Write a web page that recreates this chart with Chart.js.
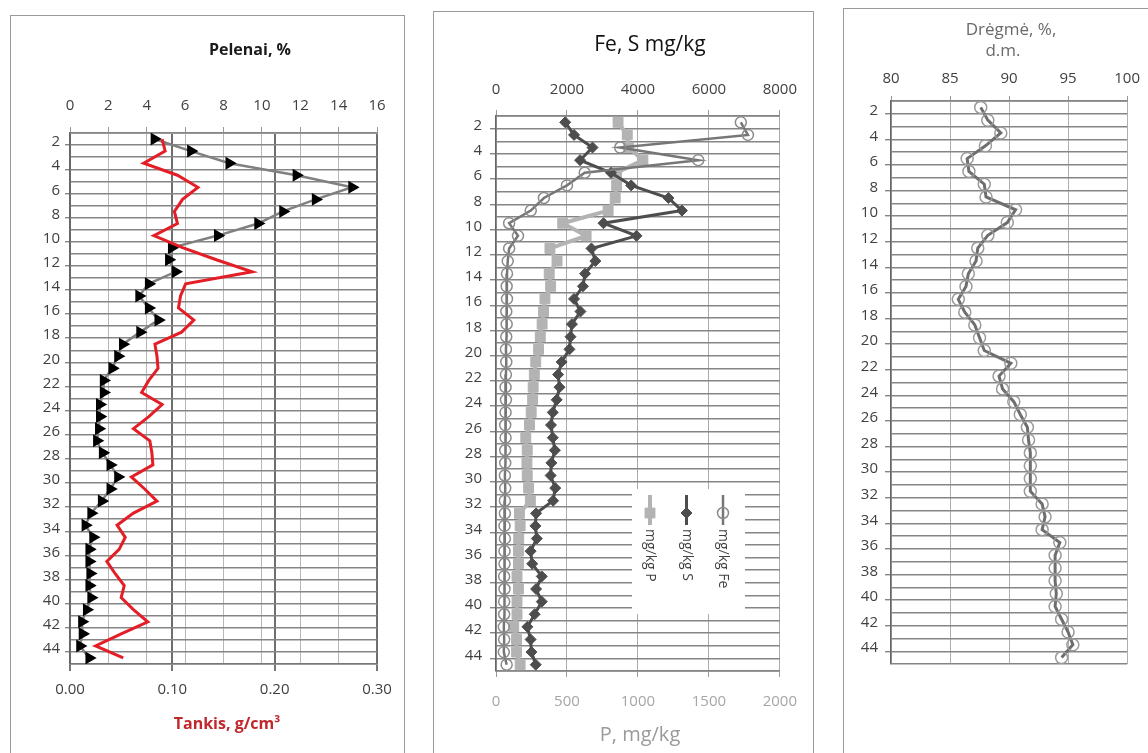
<!DOCTYPE html>
<html>
<head>
<meta charset="utf-8">
<script src="https://cdn.jsdelivr.net/npm/chart.js@4.4.1/dist/chart.umd.min.js"></script>
<style>
  body { margin: 0; background: #fff; width: 1148px; height: 753px; overflow: hidden; position: relative; }
  .box { position: absolute; border: 1px solid #9a9a9a; background: #fff; }
  canvas { position: absolute; }
</style>
</head>
<body>
<div class="box" style="left:10px;top:15px;width:393px;height:760px"></div>
<div class="box" style="left:433px;top:11px;width:379px;height:760px"></div>
<div class="box" style="left:843px;top:8px;width:320px;height:760px"></div>
<canvas id="c1" width="394" height="738" style="left:10px;top:15px"></canvas>
<canvas id="c2" width="380" height="742" style="left:433px;top:11px"></canvas>
<canvas id="c3" width="305" height="745" style="left:843px;top:8px"></canvas>

<script>
// gylis (cm) - kiekvieno sluoksnio vidurys
const depths = [1.5, 2.5, 3.5, 4.5, 5.5, 6.5, 7.5, 8.5, 9.5, 10.5, 11.5, 12.5, 13.5, 14.5, 15.5,
  16.5, 17.5, 18.5, 19.5, 20.5, 21.5, 22.5, 23.5, 24.5, 25.5, 26.5, 27.5, 28.5, 29.5, 30.5,
  31.5, 32.5, 33.5, 34.5, 35.5, 36.5, 37.5, 38.5, 39.5, 40.5, 41.5, 42.5, 43.5, 44.5];
const depthLabels = [2, 4, 6, 8, 10, 12, 14, 16, 18, 20, 22, 24, 26, 28, 30, 32, 34, 36, 38, 40, 42, 44];

// pelenai, %
const pelenai = [4.4, 6.3, 8.3, 11.8, 14.7, 12.8, 11.1, 9.8, 7.7, 5.3, 5.15, 5.5, 4.1, 3.6, 4.1,
  4.6, 3.65, 2.75, 2.5, 2.2, 1.75, 1.75, 1.55, 1.55, 1.5, 1.4, 1.7, 2.1, 2.5, 2.1,
  1.65, 1.1, 0.8, 1.2, 1.0, 1.0, 1.05, 1.0, 1.1, 0.87, 0.62, 0.65, 0.52, 1.0];
// tankis, g/cm3
const tankis = [0.090, 0.093, 0.072, 0.105, 0.125, 0.110, 0.102, 0.105, 0.082, 0.110, 0.143, 0.178, 0.113, 0.108, 0.106,
  0.121, 0.109, 0.083, 0.085, 0.086, 0.077, 0.070, 0.090, 0.077, 0.062, 0.078, 0.080, 0.081, 0.060, 0.073,
  0.085, 0.062, 0.046, 0.054, 0.048, 0.036, 0.044, 0.053, 0.050, 0.062, 0.076, 0.050, 0.025, 0.052];

// Fe, S, P mg/kg
const fe = [6900, 7100, 3500, 5700, 2500, 2000, 1350, 980, 370, 620, 370, 330, 310, 300, 310,
  290, 300, 290, 280, 290, 280, 270, 280, 270, 260, 270, 260, 260, 250, 260,
  250, 250, 240, 250, 240, 240, 230, 240, 230, 230, 220, 230, 220, 300];
const siera = [1950, 2200, 2720, 2370, 3240, 3810, 4860, 5240, 3030, 3960, 2690, 2800, 2510, 2450, 2200,
  2380, 2140, 2100, 2070, 1850, 1750, 1790, 1710, 1600, 1550, 1600, 1660, 1560, 1540, 1670,
  1610, 1130, 1110, 1150, 975, 1020, 1290, 1130, 1290, 1090, 885, 975, 1000, 1120];
const fosforas = [860, 925, 935, 1035, 850, 850, 840, 790, 470, 635, 380, 430, 375, 385, 345,
  335, 325, 312, 300, 280, 270, 262, 258, 248, 236, 210, 220, 218, 220, 230,
  242, 165, 170, 160, 158, 158, 148, 158, 148, 148, 125, 145, 145, 170];

// dregme, %
const dregme = [87.6, 88.2, 89.3, 88.0, 86.45, 86.6, 87.9, 88.05, 90.55, 89.85, 88.2, 87.35, 87.2, 86.55, 86.35,
  85.7, 86.25, 87.1, 87.5, 87.9, 90.15, 89.15, 89.45, 90.4, 90.95, 91.55, 91.65, 91.8, 91.8, 91.8,
  91.8, 92.8, 93.05, 92.8, 94.3, 93.9, 93.9, 93.9, 94.0, 93.9, 94.45, 95.0, 95.4, 94.45];

Chart.defaults.font.family = "'Open Sans', 'DejaVu Sans', sans-serif";
Chart.defaults.font.size = 15;
Chart.defaults.color = '#404040';

const pts = vals => vals.map((v, i) => ({ x: v, y: depths[i] }));

// tekstai (antrastes) piesiami tiesiai ant drobes
const panelText = {
  id: 'panelText',
  afterDraw(chart, args, opts) {
    const ctx = chart.ctx;
    (opts.items || []).forEach(t => {
      ctx.save();
      ctx.font = t.font;
      ctx.fillStyle = t.color;
      ctx.textAlign = 'center';
      ctx.textBaseline = 'middle';
      ctx.fillText(t.text, t.x, t.y);
      ctx.restore();
    });
  }
};

// vertikali legenda antrame grafike
const rotatedLegend = {
  id: 'rotatedLegend',
  afterDatasetsDraw(chart, args, opts) {
    if (!opts.entries) return;
    const ctx = chart.ctx;
    ctx.save();
    ctx.fillStyle = '#fff';
    ctx.fillRect(opts.x, opts.y, opts.w, opts.h);
    opts.entries.forEach((idx, k) => {
      const ds = chart.data.datasets[idx];
      const cx = opts.x + opts.first + k * opts.gap;
      ctx.strokeStyle = ds.borderColor;
      ctx.lineWidth = ds.borderWidth;
      ctx.beginPath();
      ctx.moveTo(cx, opts.y + 6);
      ctx.lineTo(cx, opts.y + 36);
      ctx.stroke();
      ctx.fillStyle = ds.pointBackgroundColor;
      ctx.strokeStyle = ds.pointBorderColor;
      ctx.lineWidth = ds.pointBorderWidth || 1;
      Chart.helpers.drawPoint(ctx, {
        pointStyle: ds.pointStyle, rotation: 0,
        radius: ds.pointRadius, borderWidth: ds.pointBorderWidth || 1
      }, cx, opts.y + 24);
      ctx.save();
      ctx.translate(cx, opts.y + 40);
      ctx.rotate(Math.PI / 2);
      ctx.font = "14px 'Open Sans', sans-serif";
      ctx.fillStyle = '#404040';
      ctx.textAlign = 'left';
      ctx.textBaseline = 'middle';
      ctx.fillText(ds.label, 0, 0);
      ctx.restore();
    });
    ctx.restore();
  }
};

function depthAxis(width, tickLen, pad) {
  return {
    type: 'linear', reverse: true, min: 1, max: 45,
    afterFit: sc => { sc.width = width; },
    border: { color: '#666', width: 1.5 },
    grid: {
      color: '#858585', lineWidth: 1.4, tickLength: tickLen,
      tickColor: c => depthLabels.includes(c.tick.value) ? '#858585' : 'rgba(0,0,0,0)'
    },
    ticks: {
      stepSize: 1, autoSkip: false, padding: pad, labelOffset: -3, color: '#404040',
      callback: v => depthLabels.includes(v) ? v : ''
    }
  };
}

const plain = v => String(v);

const baseOpts = {
  responsive: false,
  animation: false,
  events: []
};

// 1. Pelenai ir tankis
new Chart(document.getElementById('c1'), {
  type: 'scatter',
  data: {
    datasets: [
      {
        label: 'Tankis', data: pts(tankis), xAxisID: 'x2', yAxisID: 'y', showLine: true,
        borderColor: '#e41e26', borderWidth: 3, pointRadius: 0, order: 0
      },
      {
        label: 'Pelenai', data: pts(pelenai), xAxisID: 'x', yAxisID: 'y', showLine: true,
        borderColor: '#808080', borderWidth: 2.5, pointStyle: 'triangle', pointRotation: 90,
        pointRadius: 5, pointBackgroundColor: '#000', pointBorderColor: '#000', order: 1
      }
    ]
  },
  options: {
    ...baseOpts,
    layout: { padding: { left: 0, right: 27, top: 0, bottom: 0 } },
    scales: {
      x: {
        type: 'linear', position: 'top', min: 0, max: 16,
        afterFit: sc => { sc.height = 118; },
        border: { color: '#999' },
        grid: { color: '#b8b8b8', lineWidth: 1, tickLength: 6, tickColor: '#999' },
        ticks: { stepSize: 2, padding: 12, callback: plain }
      },
      x2: {
        type: 'linear', position: 'bottom', min: 0, max: 0.3,
        afterFit: sc => { sc.height = 89; },
        border: { color: '#777', width: 1.5 },
        grid: { color: '#6e6e6e', lineWidth: 2, tickLength: 7, tickColor: '#777' },
        ticks: { stepSize: 0.1, padding: 10, callback: v => v.toFixed(2) }
      },
      y: depthAxis(60, 5, 5)
    },
    plugins: {
      legend: { display: false },
      tooltip: { enabled: false },
      panelText: {
        items: [
          { text: 'Pelenai, %', x: 240, y: 35, font: "bold 16px 'Open Sans', sans-serif", color: '#1a1a1a' },
          { text: 'Tankis, g/cm\u00B3', x: 217, y: 709, font: "bold 16px 'Open Sans', sans-serif", color: '#c0282d' }
        ]
      }
    }
  },
  plugins: [panelText]
});

// 2. Fe, S, P
new Chart(document.getElementById('c2'), {
  type: 'scatter',
  data: {
    datasets: [
      {
        label: 'mg/kg Fe', data: pts(fe), xAxisID: 'x', yAxisID: 'y', showLine: true,
        borderColor: '#767676', borderWidth: 2.5, pointStyle: 'circle', pointRadius: 5.5,
        pointBackgroundColor: 'rgba(255,255,255,0)', pointBorderColor: '#8c8c8c', pointBorderWidth: 1.5, order: 0
      },
      {
        label: 'mg/kg S', data: pts(siera), xAxisID: 'x', yAxisID: 'y', showLine: true,
        borderColor: '#4d4d4d', borderWidth: 3, pointStyle: 'rectRot', pointRadius: 5.5,
        pointBackgroundColor: '#4d4d4d', pointBorderColor: '#4d4d4d', pointBorderWidth: 1, order: 1
      },
      {
        label: 'mg/kg P', data: pts(fosforas), xAxisID: 'x2', yAxisID: 'y', showLine: true,
        borderColor: '#b3b3b3', borderWidth: 4, pointStyle: 'rect', pointRadius: 7,
        pointBackgroundColor: '#b3b3b3', pointBorderColor: '#b3b3b3', pointBorderWidth: 1, order: 2
      }
    ]
  },
  options: {
    ...baseOpts,
    layout: { padding: { left: 0, right: 19, top: 0, bottom: 0 } },
    scales: {
      x: {
        type: 'linear', position: 'top', min: 0, max: 8000,
        afterFit: sc => { sc.height = 105; },
        border: { color: '#999' },
        grid: { color: '#ababab', lineWidth: 1, tickLength: 6, tickColor: '#999' },
        ticks: { stepSize: 2000, padding: 11, callback: plain }
      },
      x2: {
        type: 'linear', position: 'bottom', min: 0, max: 2000,
        afterFit: sc => { sc.height = 82; },
        border: { color: '#999' },
        grid: { drawOnChartArea: false, tickLength: 6, tickColor: '#999' },
        ticks: { stepSize: 500, padding: 16, color: '#a6a6a6', callback: plain }
      },
      y: depthAxis(63, 6, 8)
    },
    plugins: {
      legend: { display: false },
      tooltip: { enabled: false },
      panelText: {
        items: [
          { text: 'Fe, S mg/kg', x: 217, y: 34, font: "21px 'Open Sans', sans-serif", color: '#111' },
          { text: 'P, mg/kg', x: 207, y: 724, font: "20px 'Open Sans', sans-serif", color: '#9a9a9a' }
        ]
      },
      rotatedLegend: { x: 199, y: 478, w: 113, h: 125, first: 18, gap: 36.5, entries: [2, 1, 0] }
    }
  },
  plugins: [panelText, rotatedLegend]
});

// 3. Dregme
new Chart(document.getElementById('c3'), {
  type: 'scatter',
  data: {
    datasets: [
      {
        label: 'Drėgmė', data: pts(dregme), xAxisID: 'x', yAxisID: 'y', showLine: true,
        borderColor: '#6e6e6e', borderWidth: 3, pointStyle: 'circle', pointRadius: 6,
        pointBackgroundColor: 'rgba(255,255,255,0)', pointBorderColor: '#9a9a9a', pointBorderWidth: 1.5
      }
    ]
  },
  options: {
    ...baseOpts,
    layout: { padding: { left: 0, right: 18, top: 0, bottom: 89 } },
    scales: {
      x: {
        type: 'linear', position: 'top', min: 80, max: 100,
        afterFit: sc => { sc.height = 93; },
        border: { color: '#999' },
        grid: { color: '#b0b0b0', lineWidth: 1, tickLength: 5, tickColor: '#999' },
        ticks: { stepSize: 5, padding: 8, callback: plain }
      },
      y: depthAxis(48, 6, 7)
    },
    plugins: {
      legend: { display: false },
      tooltip: { enabled: false },
      panelText: {
        items: [
          { text: 'Drėgmė, %,', x: 168, y: 22, font: "17px 'Open Sans', sans-serif", color: '#6a6a6a' },
          { text: 'd.m.', x: 160, y: 43, font: "17px 'Open Sans', sans-serif", color: '#6a6a6a' }
        ]
      }
    }
  },
  plugins: [panelText]
});
</script>
</body>
</html>
